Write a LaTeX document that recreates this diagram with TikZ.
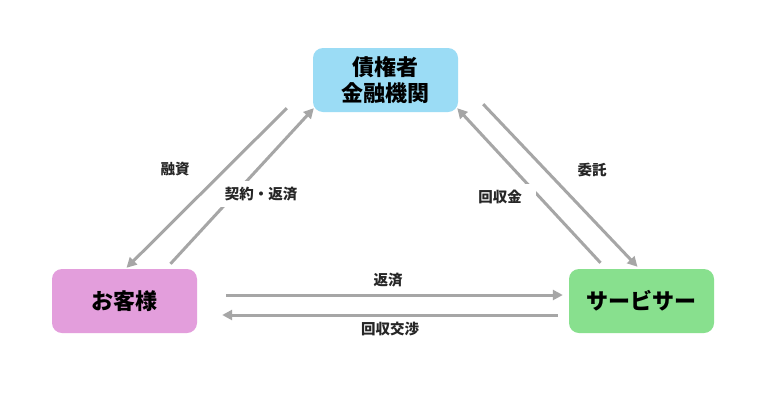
\documentclass[tikz,border=0pt]{standalone}
\usepackage{fontspec}
\newfontfamily\jp{Noto Sans CJK JP}
\usetikzlibrary{arrows.meta,calc}
\definecolor{bankblue}{HTML}{9BDCF5}
\definecolor{custpink}{HTML}{E39EDC}
\definecolor{servgreen}{HTML}{88E08E}
\definecolor{arrgray}{HTML}{A6A6A6}
\tikzset{
  box/.style={rounded corners=10pt, minimum width=145pt, minimum height=64pt, align=center,
    font=\jp\bfseries\fontsize{22}{26}\selectfont, text=black, inner sep=0pt},
  flow/.style={draw=arrgray, line width=3pt, -{Triangle[length=10pt,width=10pt]}},
  lbl/.style={font=\jp\bfseries\fontsize{14.5}{16}\selectfont, text=black!85},
  cutlbl/.style={lbl, fill=white, inner xsep=6pt, inner ysep=6pt}
}
\begin{document}
\begin{tikzpicture}[x=1pt,y=-1pt]
\useasboundingbox[fill=white] (0,0) rectangle (768,405);
\node[box, fill=bankblue] (bank) at (385.5,80) {債権者\\金融機関};
\node[box, fill=custpink] (cust) at (124.5,301) {お客様};
\node[box, fill=servgreen] (serv) at (641.5,301) {サービサー};

% bank <-> customer
\draw[flow] ($(bank.south west)+(-26,-4)$) -- ($(cust.north)+(2,-1)$);
\draw[flow] ($(cust.north)+(46,-5)$) -- ($(bank.south west)+(1,-4)$);
% bank <-> servicer
\draw[flow] ($(serv.north)+(-41,-6)$) -- ($(bank.south east)+(-1,-4)$);
\draw[flow] ($(bank.south east)+(25,-8)$) -- ($(serv.north)+(-4,-2)$);
% customer <-> servicer
\draw[flow] ($(cust.east)+(29,-6)$) -- ($(serv.west)+(-6,-6)$);
\draw[flow] ($(serv.west)+(-11,14)$) -- ($(cust.east)+(25,14)$);

\node[lbl] (l1) at (175,169) {融資};
\node[cutlbl] (l2) at (261,194) {契約・返済};
\node[cutlbl, inner xsep=14pt, xshift=8pt] (l3) at (500,197) {\hspace*{-16pt}回収金};
\node[lbl] (l4) at (592,170) {委託};
\node[lbl] (l5) at (388,280) {返済};
\node[lbl] (l6) at (390,329) {回収交渉};
\end{tikzpicture}
\end{document}
